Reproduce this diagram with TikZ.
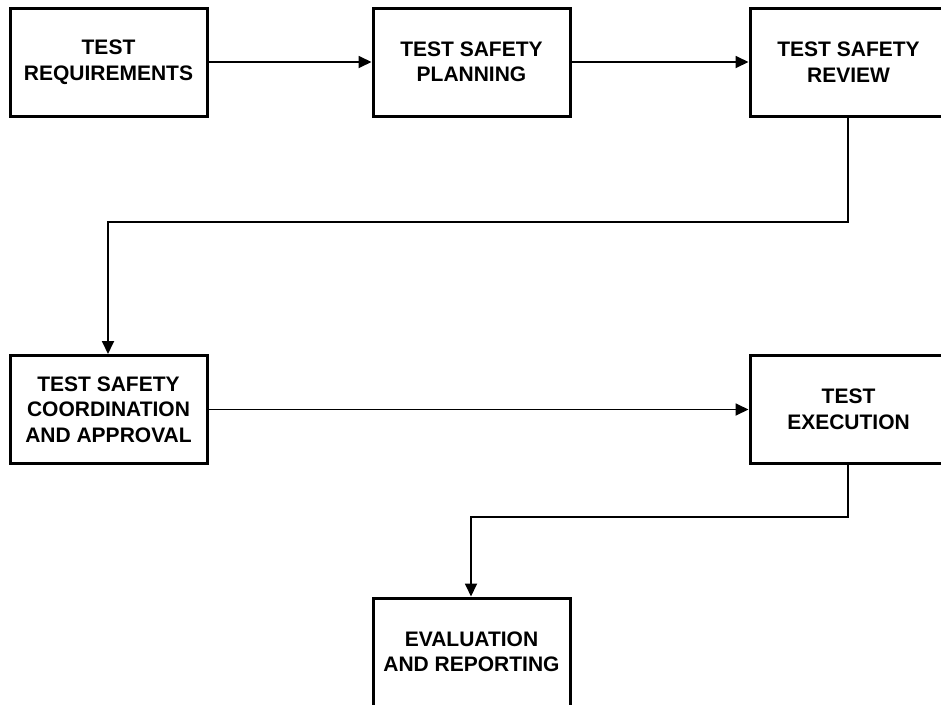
\documentclass[tikz,border=0pt]{standalone}
\usepackage{fontspec}
\setmainfont{Liberation Sans}
\usetikzlibrary{arrows.meta}
\begin{document}
\begin{tikzpicture}[x=1pt,y=-1pt,
  stagebox/.style={draw=black,line width=3pt,minimum width=197pt,minimum height=108pt,
    align=center,font=\fontsize{21}{25.5}\selectfont\bfseries,inner sep=0pt},
  link/.style={line width=1.8pt,-{Triangle[length=13pt,width=12pt]}}]
\useasboundingbox (0,0) rectangle (941,704);
\clip (0,0) rectangle (941,704);
\fill[white] (0,0) rectangle (941,704);
\node[stagebox] (req) at (108.5,62) {TEST\\REQUIREMENTS};
\node[stagebox] (plan) at (471.5,62) {TEST SAFETY\\PLANNING};
\node[stagebox] (rev) at (848.5,62) {TEST SAFETY\\REVIEW};
\node[stagebox] (coord) at (108.5,409.5) {TEST SAFETY\\COORDINATION\\AND APPROVAL};
\node[stagebox] (exec) at (848.5,409.5) {TEST\\EXECUTION};
\node[stagebox] (eval) at (471.5,652) {EVALUATION\\AND REPORTING};
\coordinate (c1) at (848,222);
\coordinate (c2) at (108,222);
\coordinate (c3) at (848,517);
\coordinate (c4) at (471,517);
\draw[link] (req.east) -- (plan.west);
\draw[link] (plan.east) -- (rev.west);
\draw[link] (rev.south -| c1) -- (c1) -- (c2) -- (coord.north -| c2);
\draw[link] (coord.east) -- (exec.west);
\draw[link] (exec.south -| c3) -- (c3) -- (c4) -- (eval.north -| c4);
\end{tikzpicture}
\end{document}
